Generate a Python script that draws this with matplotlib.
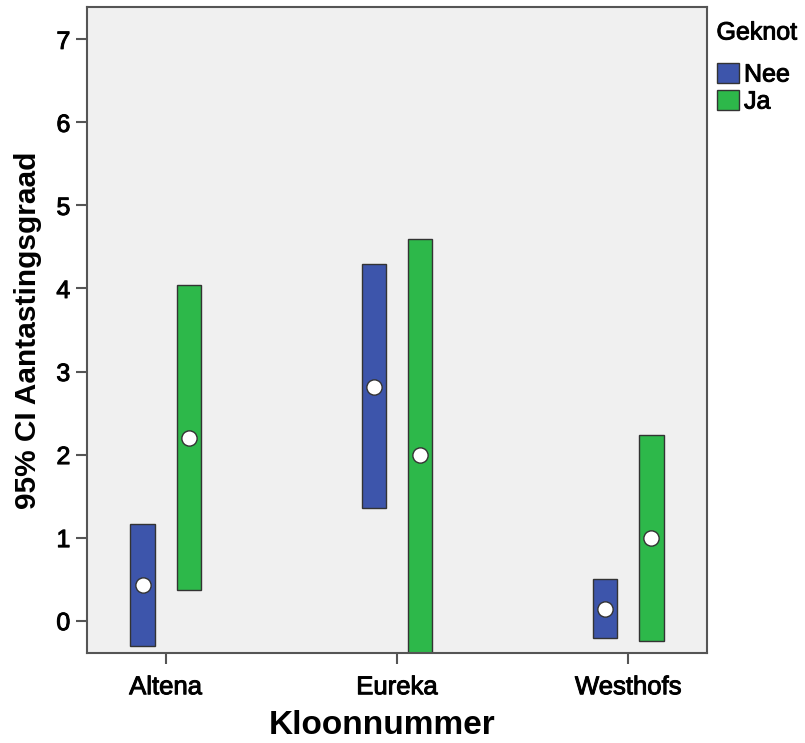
import matplotlib
matplotlib.use("Agg")
import matplotlib.pyplot as plt
from matplotlib.patches import Patch
import matplotlib.patheffects as pe
import numpy as np

plt.rcParams['font.family'] = ['Liberation Sans', 'DejaVu Sans']

categories = ["Altena", "Eureka", "Westhofs"]
groups = ["Nee", "Ja"]
means = {"Nee": [0.43, 2.81, 0.14], "Ja": [2.20, 2.00, 1.00]}
lower = {"Nee": [-0.31, 1.36, -0.21], "Ja": [0.37, -0.60, -0.25]}
upper = {"Nee": [1.16, 4.30, 0.50], "Ja": [4.04, 4.60, 2.24]}
colors = {"Nee": "#3D55AB", "Ja": "#2DB84A"}
yticks = [0, 1, 2, 3, 4, 5, 6, 7]

semi = [pe.withStroke(linewidth=0.7, foreground="black")]

fig = plt.figure(figsize=(8.05, 7.43), dpi=100)
ax = fig.add_axes([87/805, 1-653/743, 620/805, 646/743])
ax.set_facecolor("#F0F0F0")

offsets = {"Nee": -0.1, "Ja": 0.1}
width = 0.105
x = np.arange(len(categories))
for g in groups:
    lo = np.array(lower[g]); hi = np.array(upper[g])
    ax.bar(x + offsets[g], hi - lo, bottom=lo, width=width, color=colors[g],
           edgecolor="#333333", linewidth=1.0, zorder=2)
    ax.plot(x + offsets[g], means[g], "o", markersize=11, markerfacecolor="white",
            markeredgecolor="#333333", markeredgewidth=1.0, zorder=3, linestyle="none")

ax.set_xlim(-0.34, 2.34)
ax.set_ylim(-0.39, 7.39)
ax.set_xticks(x)
ax.set_xticklabels(categories, fontsize=18.5)
ax.set_yticks(yticks)
ax.set_yticklabels([str(v) for v in yticks], fontsize=18)
for t in ax.get_xticklabels() + ax.get_yticklabels():
    t.set_path_effects(semi)
ax.tick_params(axis="both", direction="out", length=8, width=1.5, color="#555555", pad=4)
ax.tick_params(axis="x", pad=8)
for s in ax.spines.values():
    s.set_color("#555555")
    s.set_linewidth(1.5)
ax.set_xlabel("Kloonnummer", fontsize=24, fontweight="bold")
ax.xaxis.set_label_coords(0.476, -0.088)
ax.set_ylabel("95% CI Aantastingsgraad", fontsize=21.5, fontweight="bold", labelpad=10)

handles = [Patch(facecolor=colors[g], edgecolor="#333333", label=g) for g in groups]
leg = fig.legend(handles=handles, title="Geknot", loc="upper left",
                 bbox_to_anchor=(714/805, 1-18/743), frameon=False, fontsize=18,
                 title_fontsize=18, handlelength=0.9, handleheight=0.85,
                 handletextpad=0.2, labelspacing=0.12, borderaxespad=0, borderpad=0.1)
leg._legend_box.align = "left"
leg._legend_box.sep = 13
for t in leg.get_texts() + [leg.get_title()]:
    t.set_path_effects(semi)

fig.savefig("out.png", dpi=100)
